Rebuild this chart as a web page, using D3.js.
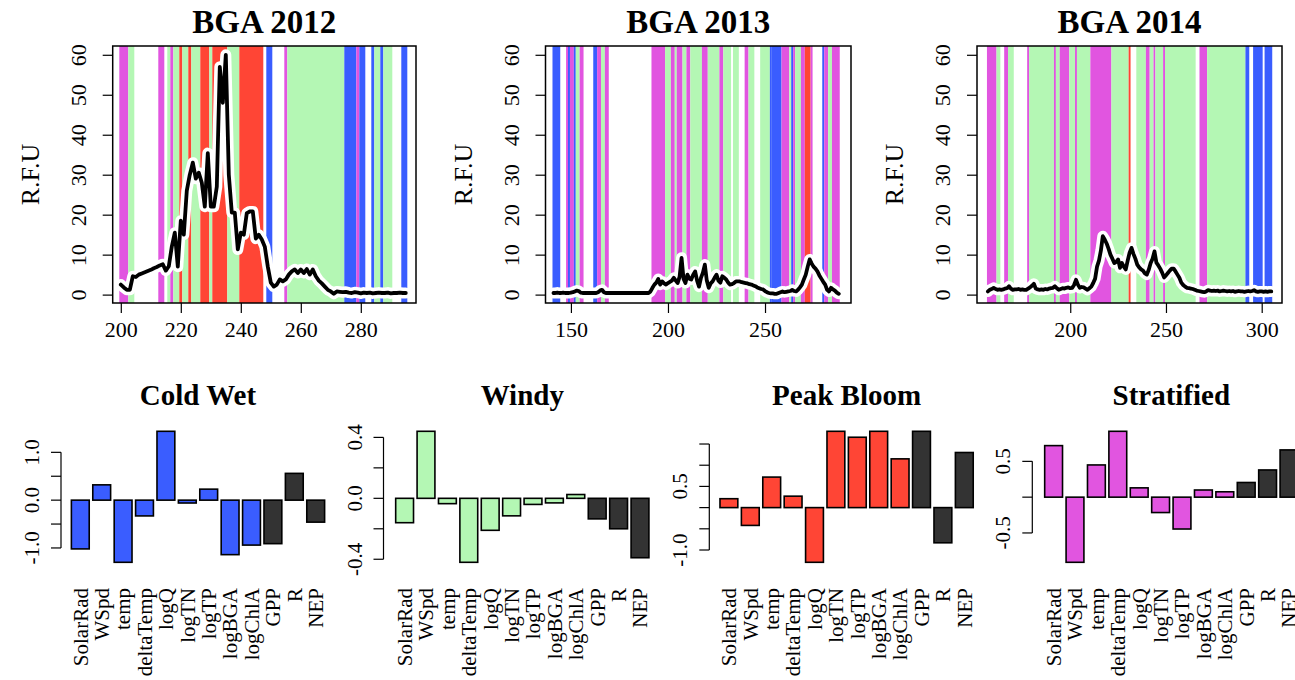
<!DOCTYPE html>
<html>
<head>
<meta charset="utf-8">
<script src="https://cdn.jsdelivr.net/npm/d3@7"></script>
<style>
  body { margin: 0; background: #fff; }
  svg { display: block; }
  text { font-family: "Liberation Serif", "Times New Roman", serif; fill: #000; }
</style>
</head>
<body>
<svg id="chart" width="1295" height="680"></svg>
<script>
// ---- state colours (Cold Wet, Windy, Peak Bloom, Stratified) ----
const stateColors = { C: "#3a5dff", W: "#b4f7b4", P: "#ff4535", S: "#e155e0" };

// ---- daily BGA (R.F.U) per year ----
const bga2012Start = 200;
const bga2012 = [
  2.5, 1.8, 1.2, 1.2, 4.6, 4.4, 5.0, 5.3, 5.6, 5.9,
  6.2, 6.6, 6.9, 7.3, 7.6, 6.0, 7.1, 12.0, 15.5, 7.0,
  18.5, 15.0, 26.0, 30.0, 33.0, 29.0, 30.5, 28.0, 22.0, 35.4,
  22.0, 22.0, 27.0, 57.0, 48.0, 60.0, 30.0, 20.5, 20.5, 11.3,
  15.5, 15.0, 20.4, 20.8, 20.8, 14.0, 15.0, 13.8, 12.0, 7.0,
  3.0, 2.0, 2.5, 3.8, 3.3, 3.8, 5.0, 5.8, 6.3, 5.4,
  6.3, 5.4, 6.4, 5.0, 6.3, 4.6, 3.5, 2.8, 2.0, 1.2,
  0.8, 0.2, 0.8, 0.7, 0.6, 0.7, 0.5, 0.4, 0.6, 0.5,
  0.3, 0.5, 0.4, 0.5, 0.3, 0.4, 0.5, 0.4, 0.4, 0.5,
  0.3, 0.4, 0.4, 0.5, 0.4, 0.4
];
const states2012 = [
  [200, 202, "S"], [203, 204, "W"], [213, 214, "S"], [216, 216, "W"], [217, 217, "S"],
  [218, 219, "W"], [220, 220, "P"], [221, 222, "W"], [223, 223, "P"], [224, 226, "W"],
  [227, 229, "P"], [230, 230, "W"], [231, 235, "P"], [236, 239, "W"], [240, 247, "P"],
  [249, 250, "C"], [255, 255, "S"], [256, 274, "W"], [275, 278, "C"], [279, 279, "S"],
  [280, 281, "C"], [284, 284, "C"], [285, 286, "W"], [287, 287, "C"], [288, 290, "W"],
  [294, 295, "C"]
];

const bga2013Start = 141;
const bga2013 = [
  0.4, 0.4, 0.5, 0.4, 0.4, 0.5, 0.4, 0.4, 0.4, 0.5,
  0.6, 0.8, 1.0, 0.9, 0.5, 0.4, 0.4, 0.4, 0.4, 0.4,
  0.4, 0.4, 0.4, 0.6, 1.0, 1.2, 0.6, 0.4, 0.4, 0.4,
  0.4, 0.4, 0.4, 0.4, 0.4, 0.4, 0.4, 0.4, 0.4, 0.4,
  0.4, 0.4, 0.4, 0.4, 0.4, 0.4, 0.4, 0.4, 0.4, 0.4,
  0.8, 1.7, 2.5, 3.0, 3.9, 2.5, 3.3, 2.8, 2.5, 2.9,
  3.2, 3.5, 4.2, 3.5, 2.9, 4.5, 9.2, 4.0, 2.9, 5.0,
  4.0, 3.8, 5.0, 5.8, 3.5, 2.0, 4.2, 5.5, 7.5, 3.5,
  1.7, 2.8, 3.3, 4.2, 5.0, 3.5, 3.0, 4.6, 4.2, 3.8,
  3.0, 2.5, 2.6, 2.9, 3.3, 3.3, 3.3, 3.1, 3.0, 2.9,
  2.8, 2.6, 2.5, 2.3, 2.1, 1.8, 1.6, 1.4, 1.3, 0.9,
  0.6, 0.4, 0.3, 0.3, 0.2, 0.2, 0.4, 0.6, 0.8, 0.6,
  0.7, 0.8, 0.9, 1.2, 0.9, 0.8, 1.2, 1.8, 2.5, 3.8,
  5.0, 7.0, 8.8, 7.8, 7.0, 6.5, 5.8, 4.8, 4.0, 3.2,
  2.5, 1.2, 0.8, 1.7, 1.3, 1.0, 0.5, 0.2
];
const states2013 = [
  [141, 144, "C"], [148, 148, "S"], [149, 149, "C"], [150, 151, "S"], [152, 152, "C"],
  [153, 154, "W"], [155, 156, "S"], [162, 163, "C"], [164, 165, "S"], [166, 167, "W"],
  [168, 169, "S"], [192, 198, "S"], [199, 201, "W"], [202, 203, "S"], [204, 204, "W"],
  [205, 207, "S"], [208, 209, "W"], [210, 211, "S"], [212, 217, "W"], [218, 220, "S"],
  [221, 226, "W"], [227, 228, "S"], [229, 232, "W"], [234, 236, "W"], [240, 241, "S"],
  [242, 244, "W"], [248, 252, "W"], [253, 253, "C"], [254, 258, "C"], [259, 262, "S"],
  [263, 263, "W"], [264, 264, "C"], [265, 265, "S"], [266, 268, "W"], [269, 270, "S"],
  [271, 273, "P"], [274, 274, "S"], [280, 280, "C"], [281, 282, "S"], [283, 284, "W"],
  [285, 288, "S"]
];

const bga2014Start = 157;
const bga2014 = [
  0.8, 1.2, 1.4, 1.7, 1.4, 1.2, 1.3, 1.2, 1.3, 1.5,
  1.6, 2.1, 1.5, 1.2, 1.3, 1.3, 1.4, 1.2, 1.3, 1.2,
  1.2, 1.5, 1.8, 2.2, 2.7, 1.5, 1.3, 1.2, 1.3, 1.2,
  1.4, 1.3, 1.5, 1.6, 1.7, 2.1, 1.6, 1.2, 1.4, 1.6,
  1.5, 1.7, 1.8, 1.6, 1.7, 2.4, 3.7, 2.5, 1.7, 1.9,
  1.8, 1.5, 1.2, 1.6, 2.0, 2.9, 4.0, 7.0, 8.5, 11.0,
  14.6, 13.8, 12.8, 11.5, 10.0, 9.0, 7.9, 8.2, 8.8, 6.7,
  7.9, 7.0, 6.3, 8.5, 10.5, 11.7, 10.2, 9.0, 7.5, 6.8,
  6.3, 6.0, 5.3, 5.0, 6.2, 7.9, 9.0, 10.8, 8.0, 7.3,
  6.5, 5.5, 4.3, 4.8, 5.4, 6.0, 6.5, 6.5, 5.8, 5.0,
  4.2, 3.0, 2.4, 2.0, 1.7, 1.6, 1.5, 1.4, 1.2, 1.0,
  0.9, 0.8, 0.7, 0.6, 0.8, 1.1, 1.0, 0.9, 1.0, 0.9,
  1.0, 0.8, 0.9, 1.0, 0.9, 0.8, 0.9, 0.8, 0.9, 0.7,
  0.8, 0.9, 0.8, 0.8, 0.7, 0.8, 0.9, 0.8, 0.9, 1.1,
  0.8, 0.7, 0.8, 0.8, 0.7, 0.8, 0.7, 0.8, 0.8
];
const states2014 = [
  [157, 161, "S"], [162, 163, "W"], [166, 167, "S"], [168, 170, "W"], [178, 178, "S"],
  [179, 191, "W"], [192, 192, "S"], [193, 194, "W"], [195, 199, "S"], [200, 202, "W"],
  [203, 203, "S"], [204, 210, "W"], [211, 221, "S"], [222, 230, "W"], [231, 231, "P"],
  [235, 239, "W"], [240, 241, "S"], [242, 243, "W"], [244, 244, "S"], [245, 248, "W"],
  [249, 249, "S"], [250, 265, "W"], [268, 271, "S"], [272, 291, "W"], [292, 293, "C"],
  [296, 300, "C"], [302, 305, "C"]
];

const bgaTicks = [0, 10, 20, 30, 40, 50, 60];
const dayTicks2012 = [200, 220, 240, 260, 280];
const dayTicks2013 = [150, 200, 250];
const dayTicks2014 = [200, 250, 300];

// ---- state profiles (standardised means) ----
const variables = ["SolarRad", "WSpd", "temp", "deltaTemp", "logQ", "logTN", "logTP",
                   "logBGA", "logChlA", "GPP", "R", "NEP"];
const coldWet    = [-1.02, 0.32, -1.30, -0.33, 1.44, -0.06, 0.23, -1.14, -0.94, -0.91, 0.56, -0.46];
const windy      = [-0.16, 0.44, -0.035, -0.42, -0.21, -0.115, -0.04, -0.03, 0.025, -0.135, -0.20, -0.39];
const peakBloom  = [0.21, -0.42, 0.72, 0.27, -1.29, 1.80, 1.66, 1.80, 1.15, 1.80, -0.83, 1.30];
const stratified = [0.72, -0.91, 0.45, 0.92, 0.13, -0.215, -0.445, 0.10, 0.075, 0.205, 0.38, 0.66];
const metabolismVars = ["GPP", "R", "NEP"];

const coldWetTicks = [-1, -0.5, 0, 0.5, 1];
const coldWetLabels = ["-1.0", "", "0.0", "", "1.0"];
const windyTicks = [-0.4, -0.2, 0, 0.2, 0.4];
const windyLabels = ["-0.4", "", "0.0", "", "0.4"];
const peakTicks = [-1, -0.5, 0, 0.5, 1, 1.5];
const peakLabels = ["-1.0", "", "", "0.5", "", ""];
const stratTicks = [-0.5, 0, 0.5];
const stratLabels = ["-0.5", "", "0.5"];

const svg = d3.select("#chart");
const SERIF = "Liberation Serif";

// ---- time-series panels ----
function bgaPanel(cfg) {
  const g = svg.append("g");
  const x = d3.scaleLinear().domain(cfg.xDomain).range([cfg.left, cfg.right]);
  const y = d3.scaleLinear().domain([-2.1, 62.2]).range([303, 46]);
  const clipId = "clip" + cfg.title.replace(/\s/g, "");
  svg.append("clipPath").attr("id", clipId).append("rect")
    .attr("x", cfg.left).attr("y", 46).attr("width", cfg.right - cfg.left).attr("height", 257);

  const inner = g.append("g").attr("clip-path", `url(#${clipId})`);
  inner.selectAll("rect.state").data(cfg.states).join("rect")
    .attr("class", "state")
    .attr("x", d => x(d[0] - 0.5))
    .attr("width", d => x(d[1] + 0.5) - x(d[0] - 0.5))
    .attr("y", 46).attr("height", 257)
    .attr("fill", d => stateColors[d[2]]);

  const pts = cfg.values.map((v, i) => [cfg.start + i, v]);
  const line = d3.line().x(d => x(d[0])).y(d => y(d[1]));
  inner.append("path").attr("d", line(pts)).attr("fill", "none")
    .attr("stroke", "#fff").attr("stroke-width", 11)
    .attr("stroke-linejoin", "round").attr("stroke-linecap", "round");
  inner.append("path").attr("d", line(pts)).attr("fill", "none")
    .attr("stroke", "#000").attr("stroke-width", 3.8)
    .attr("stroke-linejoin", "round").attr("stroke-linecap", "round");

  g.append("rect").attr("x", cfg.left).attr("y", 46)
    .attr("width", cfg.right - cfg.left).attr("height", 257)
    .attr("fill", "none").attr("stroke", "#000").attr("stroke-width", 1.5);

  // bottom axis
  const xa = g.append("g").attr("transform", "translate(0,303)")
    .call(d3.axisBottom(x).tickValues(cfg.xTicks).tickSize(10).tickPadding(8).tickFormat(d3.format("d")));
  xa.select(".domain").remove();
  xa.selectAll("line").attr("stroke-width", 1.2);
  xa.selectAll("text").attr("font-size", 22).attr("font-family", SERIF);

  // left axis, labels parallel to the axis
  const ya = g.append("g").attr("transform", `translate(${cfg.left},0)`)
    .call(d3.axisLeft(y).tickValues(bgaTicks).tickSize(10).tickFormat(d3.format("d")));
  ya.select(".domain").remove();
  ya.selectAll("line").attr("stroke-width", 1.2);
  ya.selectAll("text")
    .attr("font-size", 22).attr("font-family", SERIF)
    .attr("text-anchor", "middle").attr("x", null).attr("dy", null)
    .attr("transform", "translate(-27,0) rotate(-90)");

  g.append("text").attr("transform", `translate(${cfg.left - 83},${174.5}) rotate(-90)`)
    .attr("text-anchor", "middle").attr("dy", "0.35em").attr("font-size", 26).text("R.F.U");

  g.append("text").attr("x", (cfg.left + cfg.right) / 2).attr("y", 33)
    .attr("text-anchor", "middle").attr("font-size", 33).attr("font-weight", "bold").text(cfg.title);
}

bgaPanel({ title: "BGA 2012", left: 112.7, right: 416, xDomain: [197.3, 298.4],
  start: bga2012Start, values: bga2012, states: states2012, xTicks: dayTicks2012 });
bgaPanel({ title: "BGA 2013", left: 545.5, right: 851, xDomain: [136.9, 294.3],
  start: bga2013Start, values: bga2013, states: states2013, xTicks: dayTicks2013 });
bgaPanel({ title: "BGA 2014", left: 977, right: 1282, xDomain: [151.3, 310.6],
  start: bga2014Start, values: bga2014, states: states2014, xTicks: dayTicks2014 });

// ---- state profile bar charts ----
function profilePanel(cfg) {
  const g = svg.append("g");
  const step = 21.4;
  const x = d3.scaleBand().domain(variables)
    .range([cfg.r0, cfg.r0 + step * variables.length])
    .paddingInner(0.2 / 1.2).paddingOuter(0.1 / 1.2);
  const ext = d3.extent(cfg.values);
  const y = d3.scaleLinear().domain(ext).range([562.3, 431.3]);

  const data = variables.map((v, i) => ({ name: v, value: cfg.values[i] }));
  g.selectAll("rect").data(data).join("rect")
    .attr("x", d => x(d.name)).attr("width", x.bandwidth())
    .attr("y", d => y(Math.max(0, d.value)))
    .attr("height", d => Math.abs(y(d.value) - y(0)))
    .attr("fill", d => metabolismVars.includes(d.name) ? "#333333" : cfg.color)
    .attr("stroke", "#000").attr("stroke-width", 1.6);

  // y axis spanning first to last tick
  const ax = cfg.axisX;
  g.append("line").attr("x1", ax).attr("x2", ax)
    .attr("y1", y(d3.min(cfg.ticks))).attr("y2", y(d3.max(cfg.ticks)))
    .attr("stroke", "#000").attr("stroke-width", 1.2);
  g.selectAll("line.tick").data(cfg.ticks).join("line").attr("class", "tick")
    .attr("x1", ax - 10).attr("x2", ax).attr("y1", d => y(d)).attr("y2", d => y(d))
    .attr("stroke", "#000").attr("stroke-width", 1.2);
  g.selectAll("text.tl").data(cfg.ticks.map((t, i) => ({ t, label: cfg.tickLabels[i] })).filter(d => d.label))
    .join("text").attr("class", "tl")
    .attr("transform", d => `translate(${ax - 22},${y(d.t)}) rotate(-90)`)
    .attr("text-anchor", "middle").attr("font-size", 21).text(d => d.label);

  // variable names, vertical
  g.selectAll("text.vn").data(variables).join("text").attr("class", "vn")
    .attr("transform", d => `translate(${x(d) + x.bandwidth() / 2},588) rotate(-90)`)
    .attr("text-anchor", "end").attr("dy", "0.35em").attr("font-size", 21).text(d => d);

  g.append("text").attr("x", cfg.r0 + step * variables.length / 2).attr("y", 405)
    .attr("text-anchor", "middle").attr("font-size", 29).attr("font-weight", "bold").text(cfg.title);
}

profilePanel({ title: "Cold Wet", values: coldWet, color: stateColors.C, r0: 69.6, axisX: 61,
  ticks: coldWetTicks, tickLabels: coldWetLabels });
profilePanel({ title: "Windy", values: windy, color: stateColors.W, r0: 393.9, axisX: 383.5,
  ticks: windyTicks, tickLabels: windyLabels });
profilePanel({ title: "Peak Bloom", values: peakBloom, color: stateColors.P, r0: 718.2, axisX: 709.3,
  ticks: peakTicks, tickLabels: peakLabels });
profilePanel({ title: "Stratified", values: stratified, color: stateColors.S, r0: 1042.9, axisX: 1032.3,
  ticks: stratTicks, tickLabels: stratLabels });
</script>
</body>
</html>
